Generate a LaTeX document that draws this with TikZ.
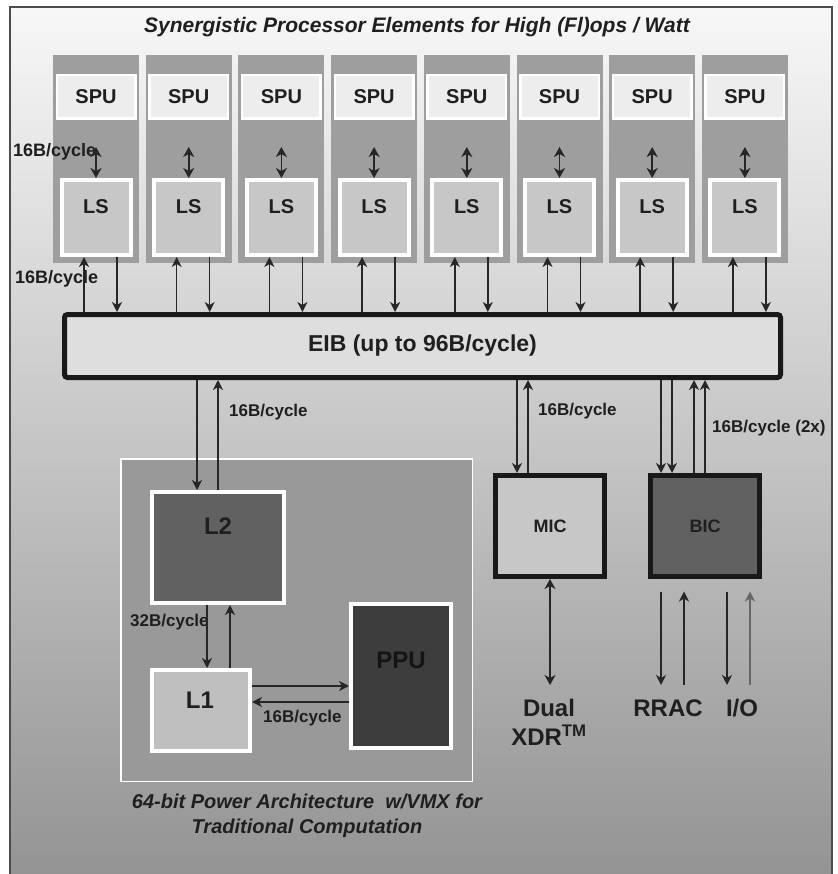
\documentclass[tikz,border=0pt]{standalone}
\usepackage{fontspec}
\setmainfont{Liberation Sans}
\usetikzlibrary{arrows.meta}

\begin{document}
\begin{tikzpicture}[x=1pt, y=-1pt,
  every node/.style={inner sep=0pt, text=black!88},
  col/.style={fill=black!38, minimum width=86pt, minimum height=208pt},
  spubox/.style={draw=white, line width=2.5pt, fill=black!7, minimum width=78.5pt, minimum height=43.5pt},
  lsbox/.style={draw=white, line width=4pt, fill=black!22, minimum width=69pt, minimum height=75pt},
  cache/.style={draw=white, line width=4pt},
  ctrl/.style={draw=black!90, line width=5pt, minimum width=109pt, minimum height=101pt, font=\fontsize{18}{22}\selectfont\bfseries},
  bigfont/.style={font=\fontsize{24}{29}\selectfont\bfseries},
  boxfont/.style={font=\fontsize{20}{24}\selectfont\bfseries},
  lblfont/.style={font=\fontsize{17}{20}\selectfont\bfseries, anchor=west},
  capfont/.style={font=\fontsize{20}{25}\selectfont\bfseries\itshape},
  arr/.style={-{Stealth[length=10pt,width=10pt,inset=3pt]}, line width=1.5pt, draw=black!85},
  dbl/.style={{Stealth[length=10pt,width=11pt,inset=3pt]}-{Stealth[length=10pt,width=11pt,inset=3pt]}, line width=1.8pt, draw=black!85}]
	\useasboundingbox (0,0) rectangle (837,874);
	\shade[top color=black!3, bottom color=black!42] (10,7) rectangle (832,874);
	\draw[black!70, line width=1.2pt] (10,7) rectangle (832,880);
	\node[capfont, font=\fontsize{21}{25}\selectfont\bfseries\itshape] (title) at (417,27) {Synergistic Processor Elements for High (Fl)ops / Watt};
	% SPE columns
	\foreach \i in {1,...,8} {
		\pgfmathsetmacro{\cx}{96+92.7*(\i-1)}
		\node[col] (spe\i) at (\cx,159) {};
		\node[spubox, boxfont] (spu\i) at (\cx,97) {SPU};
		\node[lsbox] (ls\i) at (\cx,217.5) {};
		\node[boxfont] (lst\i) at (\cx,207) {LS};
	}
	\node[lblfont, font=\fontsize{18}{21}\selectfont\bfseries] (bwspu) at (13,152) {16B/cycle};
	\node[lblfont, font=\fontsize{18}{21}\selectfont\bfseries] (bweib) at (15,279) {16B/cycle};
	\node[draw=black!90, line width=5pt, fill=black!13, rounded corners=3pt, minimum width=716pt, minimum height=63pt, font=\fontsize{23}{27}\selectfont\bfseries] (eib) at (422.5,346) {EIB (up to 96B/cycle)};
	\foreach \i in {1,...,8} {
		\draw[dbl] ([yshift=-27pt]spu\i.south) -- (ls\i.north);
		\draw[arr] ([xshift=-12pt]ls\i.south |- eib.north) -- ([xshift=-12pt]ls\i.south);
		\draw[arr] ([xshift=21pt]ls\i.south) -- ([xshift=21pt]ls\i.south |- eib.north);
	}
	% PPE
	\node[draw=white, line width=1.5pt, fill=black!40, minimum width=351.5pt, minimum height=322.5pt] (ppe) at (296.5,620) {};
	\node[cache, fill=black!62, minimum width=132pt, minimum height=111pt] (l2) at (218,547.5) {};
	\node[bigfont] (l2t) at (218,526) {L2};
	\node[cache, fill=black!25, minimum width=98pt, minimum height=81pt] (l1) at (201,710.5) {};
	\node[bigfont] (l1t) at (200,700) {L1};
	\node[cache, fill=black!76, minimum width=100pt, minimum height=144pt] (ppu) at (401,676) {};
	\node[bigfont, text=black!92] (pput) at (401,660) {PPU};
	\node[capfont, align=center] (ppecap) at (307,816) {64-bit Power Architecture\ \ w/VMX for\\Traditional Computation};
	% MIC and BIC
	\node[ctrl, fill=black!22] (mic) at (550,526) {MIC};
	\node[ctrl, fill=black!62] (bic) at (705,526) {BIC};
	\node[lblfont] (bwl2) at (229,412) {16B/cycle};
	\node[lblfont] (bwmic) at (538,411) {16B/cycle};
	\node[lblfont] (bwbic) at (712,428) {16B/cycle (2x)};
	\node[lblfont] (bwl1) at (130,622) {32B/cycle};
	\node[lblfont] (bwppu) at (263,718) {16B/cycle};
	\node[bigfont, align=center] (xdr) at (549,722) {Dual\\XDR\textsuperscript{TM}};
	\node[bigfont] (rrac) at (668,708) {RRAC};
	\node[bigfont] (io) at (742,708) {I/O};
	\coordinate (pinend) at (0,685);
	% connectors
	\draw[arr] ([xshift=-21pt]l2.north |- eib.south) -- ([xshift=-21pt]l2.north);
	\draw[arr] (l2.north) -- (l2.north |- eib.south);
	\draw[arr] ([xshift=6pt]l1.north |- l2.south) -- ([xshift=6pt]l1.north);
	\draw[arr] ([xshift=29pt]l1.north) -- ([xshift=29pt]l1.north |- l2.south);
	\draw[arr] ([yshift=24.5pt]l1.east) -- ([yshift=24.5pt]l1.east -| ppu.west);
	\draw[arr] ([yshift=8.5pt]l1.east -| ppu.west) -- ([yshift=8.5pt]l1.east);
	\draw[arr] ([xshift=-33pt]mic.north |- eib.south) -- ([xshift=-33pt]mic.north);
	\draw[arr] ([xshift=-22pt]mic.north) -- ([xshift=-22pt]mic.north |- eib.south);
	\foreach \dx in {-44,-33} \draw[arr] ([xshift=\dx pt]bic.north |- eib.south) -- ([xshift=\dx pt]bic.north);
	\foreach \dx in {-11,0} \draw[arr] ([xshift=\dx pt]bic.north) -- ([xshift=\dx pt]bic.north |- eib.south);
	\draw[dbl, line width=1.5pt] (mic.south) -- (mic.south |- pinend);
	\foreach \dx in {-44,22} \draw[arr] ([xshift=\dx pt,yshift=-12.5pt]bic.south) -- ([xshift=\dx pt]bic.south |- pinend);
	\draw[arr] ([xshift=-21pt]bic.south |- pinend) -- ([xshift=-21pt,yshift=-12.5pt]bic.south);
	\draw[arr, draw=black!60] ([xshift=45pt]bic.south |- pinend) -- ([xshift=45pt,yshift=-12.5pt]bic.south);
\end{tikzpicture}
\end{document}
